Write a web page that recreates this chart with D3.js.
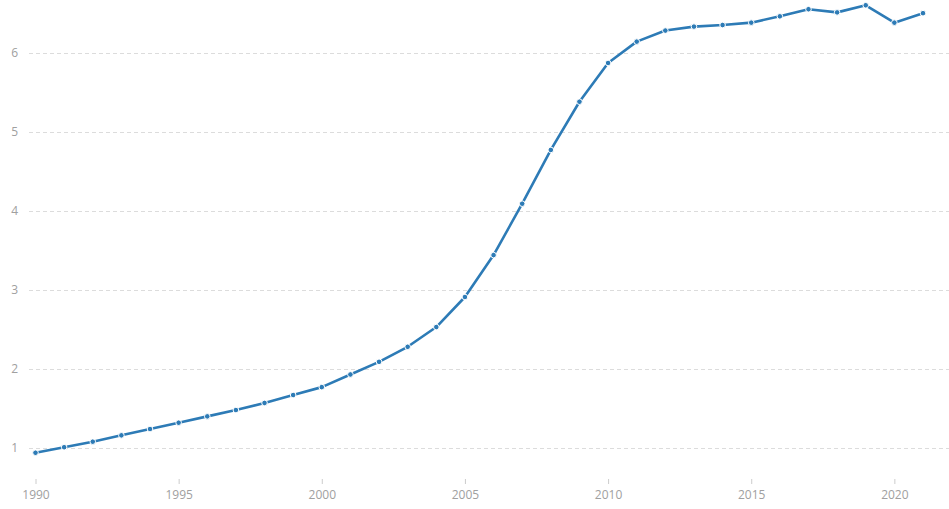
<!DOCTYPE html>
<html>
<head>
<meta charset="utf-8">
<script src="https://cdn.jsdelivr.net/npm/d3@7"></script>
<style>
  body { margin: 0; background: #fff; }
  svg text { font-family: "Open Sans", sans-serif; }
</style>
</head>
<body>
<svg id="chart" width="949" height="509"></svg>
<script>
// values
var years = [1990, 1991, 1992, 1993, 1994, 1995, 1996, 1997, 1998, 1999,
             2000, 2001, 2002, 2003, 2004, 2005, 2006, 2007, 2008, 2009,
             2010, 2011, 2012, 2013, 2014, 2015, 2016, 2017, 2018, 2019,
             2020, 2021];
var values = [0.94, 1.01, 1.08, 1.16, 1.24, 1.32, 1.40, 1.48, 1.57, 1.67,
              1.77, 1.93, 2.09, 2.28, 2.53, 2.91, 3.44, 4.09, 4.77, 5.38,
              5.87, 6.14, 6.28, 6.33, 6.35, 6.38, 6.46, 6.55, 6.51, 6.60,
              6.38, 6.50];
var yTicks = [1, 2, 3, 4, 5, 6];
var xTicks = [1990, 1995, 2000, 2005, 2010, 2015, 2020];

var svg = d3.select('#chart');

var x = d3.scaleLinear().domain([1990, 2021]).range([35.5, 923]);
var y = d3.scaleLinear().domain([1, 6]).range([448, 52.7]);

// gridlines
svg.append('g').selectAll('line')
    .data(yTicks).enter().append('line')
    .attr('x1', 29).attr('x2', 949)
    .attr('y1', function(d) { return Math.round(y(d)) + 0.5; })
    .attr('y2', function(d) { return Math.round(y(d)) + 0.5; })
    .style('stroke', '#dcdcdc')
    .style('stroke-dasharray', '4,3');

svg.append('g').selectAll('text')
    .data(yTicks).enter().append('text')
    .attr('x', 18).attr('y', function(d) { return y(d) + 4; })
    .attr('text-anchor', 'end')
    .style('font-size', '12px').style('fill', '#a0a0a0')
    .text(function(d) { return d; });

// x axis: ticks + labels only
var xAxis = svg.append('g')
    .attr('transform', 'translate(0,479)')
    .call(d3.axisBottom(x).tickValues(xTicks).tickFormat(d3.format('d'))
        .tickSize(5).tickPadding(6));
xAxis.select('.domain').remove();
xAxis.selectAll('line').style('stroke', '#cccccc');
xAxis.selectAll('text')
    .style('font-family', '"Open Sans", sans-serif')
    .style('font-size', '12px').style('fill', '#a0a0a0');

var pts = years.map(function(yr, i) { return [yr, values[i]]; });

var line = d3.line()
    .x(function(d) { return x(d[0]); })
    .y(function(d) { return y(d[1]); });

svg.append('path')
    .datum(pts)
    .attr('d', line)
    .style('fill', 'none')
    .style('stroke', '#2d7bb6')
    .style('stroke-width', 2.6)
    .style('stroke-linejoin', 'round');

svg.append('g').selectAll('circle')
    .data(pts).enter().append('circle')
    .attr('cx', function(d) { return x(d[0]); })
    .attr('cy', function(d) { return y(d[1]); })
    .attr('r', 2.8)
    .style('fill', '#2d7bb6')
    .style('stroke', '#fff')
    .style('stroke-width', 1);
</script>
</body>
</html>
